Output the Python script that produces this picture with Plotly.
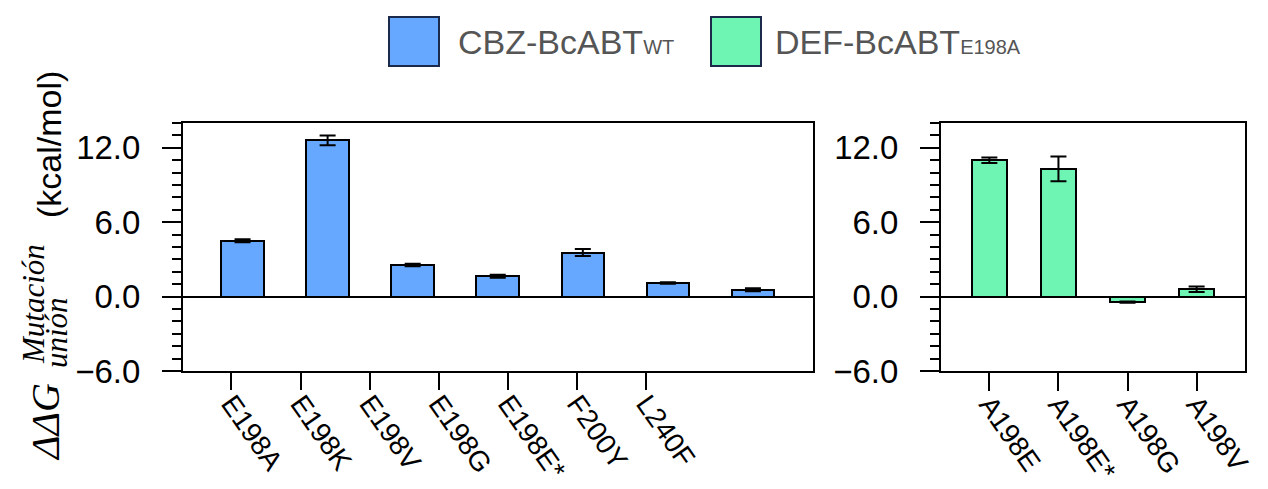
import plotly.graph_objects as go

# Binding free-energy change per mutation (kcal/mol)
cats_wt = ["E198A", "E198K", "E198V", "E198G", "E198E*", "F200Y", "L240F"]
dg_wt = [4.5, 12.6, 2.55, 1.65, 3.55, 1.1, 0.55]
err_wt = [0.12, 0.4, 0.1, 0.12, 0.28, 0.06, 0.12]

cats_mut = ["A198E", "A198E*", "A198G", "A198V"]
dg_mut = [11.0, 10.3, -0.45, 0.6]
err_mut = [0.22, 1.0, 0.05, 0.22]

y_ticks = [-6.0, 0.0, 6.0, 12.0]

BLUE = "#66A8FF"
GREEN = "#6EF5B4"
SANS = "Liberation Sans, Arial, sans-serif"
SERIF = "Liberation Serif, Times New Roman, serif"

W, H = 1268, 489
ML, MR, MT, MB = 183, 23, 123, 118
PW, PH = W - ML - MR, H - MT - MB


def px_x(p):
    return (p - ML) / PW


def px_y(p):
    return (H - MB - p) / PH


fig = go.Figure()

fig.add_trace(go.Bar(
    x=cats_wt, y=dg_wt, width=0.5,
    marker=dict(color=BLUE, line=dict(color="black", width=2)),
    error_y=dict(type="data", array=err_wt, color="black", thickness=2, width=8),
    xaxis="x", yaxis="y", showlegend=False, hoverinfo="x+y",
))
fig.add_trace(go.Bar(
    x=cats_mut, y=dg_mut, width=0.5,
    marker=dict(color=GREEN, line=dict(color="black", width=2)),
    error_y=dict(type="data", array=err_mut, color="black", thickness=2, width=8),
    xaxis="x2", yaxis="y2", showlegend=False, hoverinfo="x+y",
))
# carrier for the left panel's label axis
fig.add_trace(go.Scatter(
    x=list(range(len(cats_wt))), y=[0] * len(cats_wt), mode="markers",
    marker=dict(opacity=0), xaxis="x3", yaxis="y",
    showlegend=False, hoverinfo="skip",
))

yax = dict(
    range=[-6, 14], tickmode="array", tickvals=y_ticks, tickformat=".1f",
    ticks="outside", ticklen=19, tickwidth=1.5, tickcolor="black",
    minor=dict(dtick=1, ticks="outside", ticklen=9, tickwidth=1.5, tickcolor="black"),
    showline=True, linewidth=2, linecolor="black", mirror=True,
    showgrid=False, zeroline=True, zerolinecolor="black", zerolinewidth=1.6,
    tickfont=dict(family=SANS, size=33, color="black"),
    ticklabelstandoff=15, automargin=False,
)

xtick = dict(ticks="outside", ticklen=18, tickwidth=1.5, tickcolor="black",
             tickangle=55, showgrid=False, automargin=False, ticklabelstandoff=-14,
             tickfont=dict(family=SANS, size=28, color="black"))

fig.update_layout(
    width=W, height=H,
    margin=dict(l=ML, r=MR, t=MT, b=MB, autoexpand=False),
    paper_bgcolor="white", plot_bgcolor="white",
    bargap=0,
    xaxis=dict(domain=[0, px_x(812.5)], range=[-0.7, 6.7], type="category",
               showticklabels=False, ticks="", showline=True, linewidth=2,
               linecolor="black", mirror=True, showgrid=False, automargin=False),
    xaxis3=dict(overlaying="x", anchor="y", side="bottom", range=[-0.7, 8.4],
                tickmode="array", tickvals=list(range(len(cats_wt))), ticktext=cats_wt,
                showline=False, zeroline=False, **xtick),
    xaxis2=dict(domain=[px_x(941), 1], range=[-0.7, 3.7], type="category", anchor="y2",
                showline=True, linewidth=2, linecolor="black", mirror=True, **xtick),
    yaxis=dict(anchor="x", **yax),
    yaxis2=dict(anchor="x2", **yax),
)

# Legend drawn as boxes and labels above the panels
legend_items = [
    (389, BLUE, 456, "CBZ-BcABT", "WT"),
    (711, GREEN, 773, "DEF-BcABT", "E198A"),
]
for box_x, col, txt_x, main, sub in legend_items:
    fig.add_shape(type="rect", xref="paper", yref="paper",
                  x0=px_x(box_x), x1=px_x(box_x + 50), y0=px_y(66), y1=px_y(17),
                  fillcolor=col, line=dict(color="#1B2A4A", width=2))
    fig.add_annotation(xref="paper", yref="paper", x=px_x(txt_x), y=px_y(42),
                       xanchor="left", yanchor="middle", showarrow=False,
                       text=f"{main}<span style='font-size:20px'>{sub}</span>",
                       font=dict(family=SANS, size=34, color="#555555"))

# Y-axis title: ΔΔG with stacked super/subscript, then units
title_parts = [
    ("(kcal/mol)", SANS, 34, 49, 145),
    ("<i>ΔΔG</i>", SERIF, 40, 45, 422),
    ("<i>Mutación</i>", SERIF, 31, 33, 304),
    ("<i>unión</i>", SERIF, 31, 56, 333),
]
for txt, fam, size, cx, cy in title_parts:
    fig.add_annotation(xref="paper", yref="paper", x=px_x(cx), y=px_y(cy),
                       xanchor="center", yanchor="middle",
                       text=txt, textangle=-90, showarrow=False,
                       font=dict(family=fam, size=size, color="black"))

fig.write_html("out.html")
